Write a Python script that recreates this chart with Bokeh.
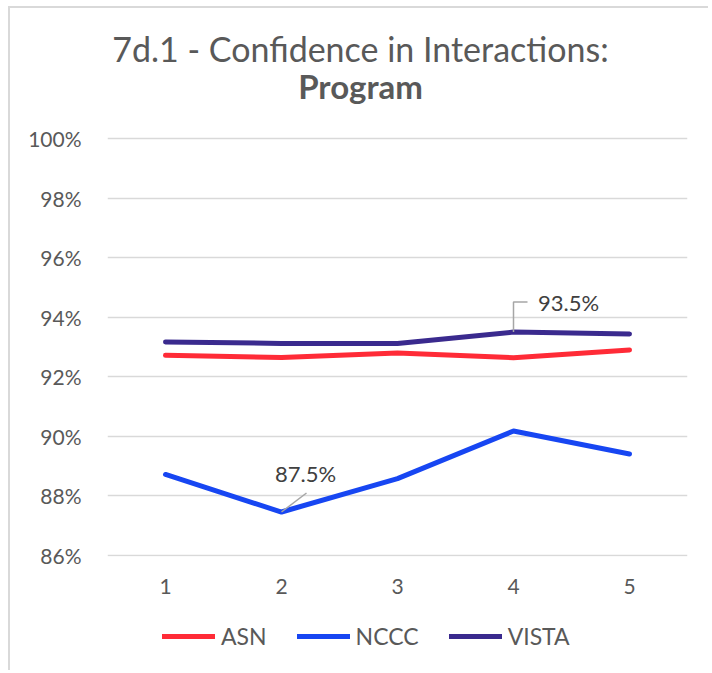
from bokeh.plotting import figure
from bokeh.layouts import column
from bokeh.models import (Range1d, FixedTicker, PrintfTickFormatter, Legend, LegendItem,
                          Label, ColumnDataSource)
from bokeh.core.properties import value
from bokeh.embed import file_html
from bokeh.resources import INLINE

# ---- data ----
periods = [1, 2, 3, 4, 5]
asn = [92.72, 92.65, 92.80, 92.64, 92.90]
nccc = [88.72, 87.46, 88.58, 90.18, 89.41]
vista = [93.17, 93.12, 93.12, 93.50, 93.44]
y_ticks = [86, 88, 90, 92, 94, 96, 98, 100]
series_names = ["ASN", "NCCC", "VISTA"]
series_values = [asn, nccc, vista]
series_colors = ["#ff2b37", "#1746f2", "#3a2a8e"]
title_main = "7d.1 - Confidence in Interactions:"
title_sub = "Program"

FONT = "Lato"
GRAY = "#595959"

# layout (page px); the layout block sits at 10px left / 8px top
OX, OY = 10, 8
W = 700
FRAME_L, FRAME_R = 107, 687
FRAME_T, FRAME_B = 12, 556           # frame extended upward to hold the title
CHART_BOTTOM = 605                    # end of the chart figure, legend strip below
PAGE_BOTTOM = 672
PX_PER_UNIT_Y = 417 / 14.0
PX_PER_UNIT_X = 580 / 5.0
Y0 = 86 - 1 / PX_PER_UNIT_Y
Y1 = 100 + (138 - FRAME_T) / PX_PER_UNIT_Y

H1 = CHART_BOTTOM - OY
p = figure(width=W, height=H1, output_backend="svg", toolbar_location=None,
           x_range=Range1d(0.5, 5.5), y_range=Range1d(Y0, Y1),
           min_border_left=FRAME_L - OX, min_border_right=OX + W - FRAME_R,
           min_border_top=FRAME_T - OY, min_border_bottom=CHART_BOTTOM - FRAME_B,
           outline_line_color=None, background_fill_color="white", border_fill_color="white")

# axes
p.yaxis.ticker = FixedTicker(ticks=y_ticks)
p.yaxis.formatter = PrintfTickFormatter(format="%d%%")
p.xaxis.ticker = FixedTicker(ticks=periods)
for ax in (p.xaxis, p.yaxis):
    ax.axis_line_color = None
    ax.major_tick_line_color = None
    ax.minor_tick_line_color = None
    ax.major_label_text_font = FONT
    ax.major_label_text_color = GRAY
    ax.major_label_text_font_size = "21px"
p.yaxis.major_label_standoff = 20
p.xaxis.major_label_standoff = 16
p.xgrid.grid_line_color = None
p.ygrid.grid_line_color = "#d9d9d9"
p.ygrid.grid_line_width = 1.5
p.ygrid.ticker = FixedTicker(ticks=y_ticks)

# lines
for vals, c in zip(series_values, series_colors):
    p.line(periods, vals, line_color=c, line_width=5, line_cap="round", line_join="round")

def dx(px):
    return px / PX_PER_UNIT_X
def dy(px):
    return px / PX_PER_UNIT_Y

# data labels with leader lines
vx, vy = periods[3], vista[3]
nx, ny = periods[1], nccc[1]
p.line([vx, vx, vx + dx(14)], [vy, vy + dy(30), vy + dy(30)], line_color="#a6a6a6", line_width=1.5)
p.line([nx, nx + dx(25)], [ny, ny + dy(19)], line_color="#a6a6a6", line_width=1.5)
lab = ColumnDataSource(dict(x=[vx, nx], y=[vy, ny],
                            t=["%.1f%%" % vy, "%.1f%%" % ny],
                            xo=[55, 24], yo=[-30, -39]))
p.text(x="x", y="y", text="t", x_offset="xo", y_offset="yo", source=lab,
       text_font=value(FONT), text_font_size="22px", text_color="#404040",
       text_align="center", text_baseline="middle")

# titles (screen units relative to the frame's bottom-left)
cx = 360 - FRAME_L
p.add_layout(Label(x=cx, y=FRAME_B - 48, x_units="screen", y_units="screen", text=title_main,
                   text_font=FONT, text_font_size="34px", text_color=GRAY,
                   text_align="center", text_baseline="middle"))
p.add_layout(Label(x=cx, y=FRAME_B - 85, x_units="screen", y_units="screen", text=title_sub,
                   text_font=FONT, text_font_size="33px", text_font_style="bold", text_color=GRAY,
                   text_align="center", text_baseline="middle"))

# legend strip (its frame is aligned with the chart frame by the column layout)
H2 = PAGE_BOTTOM - CHART_BOTTOM
q = figure(width=W, height=H2, output_backend="svg", toolbar_location=None,
           x_range=Range1d(0, 1), y_range=Range1d(0, 1),
           x_axis_location=None, y_axis_location=None, min_border=0,
           outline_line_color=None, background_fill_color="white", border_fill_color="white")
q.grid.visible = False
items = []
for name, vals, c in zip(series_names, series_values, series_colors):
    # same series, outside this strip's visible range: only its legend swatch shows
    r = q.line(x=periods, y=vals, line_color=c, line_width=5, line_cap="round")
    items.append(LegendItem(label=name, renderers=[r]))
leg_center = 640
legend = Legend(items=items, orientation="horizontal",
                location=(162 - FRAME_L, (PAGE_BOTTOM - leg_center) - 10),
                border_line_color=None, background_fill_alpha=0,
                padding=0, margin=0, spacing=30, label_standoff=6,
                glyph_width=53, glyph_height=20, label_height=20,
                label_text_font=FONT, label_text_font_size="23px", label_text_color=GRAY)
q.add_layout(legend, "center")

layout = column(p, q, spacing=0)
layout.styles = {"margin-left": "%dpx" % OX, "margin-top": "%dpx" % OY,
                 "box-shadow": "-2px -2px 0 0 #d9d9d9"}

open("out.html", "w").write(file_html(layout, INLINE))
